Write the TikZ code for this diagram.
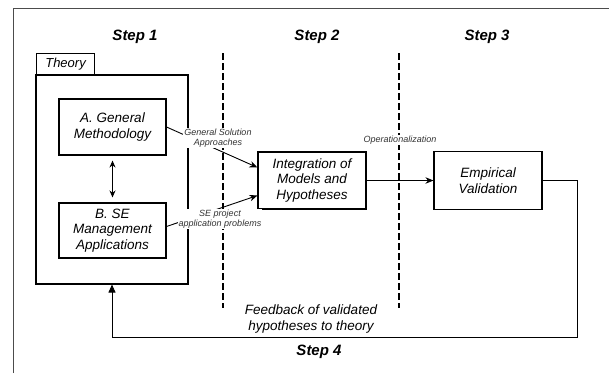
\documentclass[tikz,border=0pt]{standalone}
\usepackage{fontspec}
\setmainfont{Liberation Sans}
\usetikzlibrary{arrows.meta,calc}
\begin{document}
\begin{tikzpicture}[x=1pt,y=-1pt,
  box/.style={draw, line width=1.1pt, minimum width=107pt, minimum height=56pt, inner sep=0pt, align=center,
    font=\fontsize{13.5}{15.7}\selectfont\itshape},
  frame/.style={draw, line width=1.1pt, inner sep=0pt},
  steplabel/.style={font=\fontsize{15}{18}\selectfont\bfseries\itshape},
  small/.style={fill=white, inner sep=1pt, align=center, text=black!80, font=\fontsize{9}{10}\selectfont\itshape},
  conn/.style={line width=0.9pt, -{Stealth[length=8pt,width=6.5pt]}},
  divider/.style={line width=2pt, dash pattern=on 6.5pt off 3.5pt}]
\useasboundingbox (0,0) rectangle (609,373);

% outer frame
\draw[line width=1.2pt, black!70] (13.5,373) -- (13.5,8.5) -- (609,8.5);

% step labels
\node[steplabel] (step1) at (135,37) {Step 1};
\node[steplabel] (step2) at (317,37) {Step 2};
\node[steplabel] (step3) at (487,37) {Step 3};
\node[steplabel] (step4) at (319,352) {Step 4};

% dividers
\coordinate (d1top) at (223,53);
\coordinate (d1bot) at (223,308);
\coordinate (d2top) at (399,53);
\coordinate (d2bot) at (399,308);
\draw[divider] (d1top) -- (d1bot);
\draw[divider] (d2top) -- (d2bot);

% theory frame
\node[frame, minimum width=152pt, minimum height=209pt] (theory) at (112,179.5) {};
\node[frame, minimum width=58pt, minimum height=21pt, anchor=south west,
  font=\fontsize{13}{15}\selectfont\itshape] (tab) at (36,75) {Theory};

% boxes
\node[box, minimum height=56pt] (A) at (112.5,127) {A. General\\Methodology};
\node[box, minimum height=55pt] (B) at (112.5,230.5) {B. SE\\Management\\Applications};
\node[box, minimum width=108pt, minimum height=57pt] (integ) at (312,180.5) {Integration of\\Models and\\Hypotheses};
\node[box, minimum width=108pt, minimum height=58pt] (emp) at (488,180.5) {Empirical\\Validation};

% connectors
\draw[line width=0.9pt, {Stealth[length=7pt,width=6pt]}-{Stealth[length=7pt,width=6pt]}]
  ([yshift=-5pt]A.south) -- ([yshift=5pt]B.north);
\draw[conn] (A.east) -- ([yshift=13pt]integ.west);
\draw[conn] ([yshift=4pt]B.east) -- ([yshift=-15pt]integ.west);
\draw[conn] (integ.east) -- (emp.west);
\coordinate (fbcorner) at (577,337);
\draw[line width=0.9pt, -{Triangle[length=8pt,width=7pt]}] (emp.east) -| (fbcorner) -| (theory.south);

% connector labels
\node[small] (gsa) at (218,138) {General Solution\\Approaches};
\node[small] (sep) at (220,219) {SE project\\application problems};
\node[small] (oplabel) at (400,140) {Operationalization};
\node[align=center, font=\fontsize{13.5}{16}\selectfont\itshape] (fblabel) at (311,319)
  {Feedback of validated\\hypotheses to theory};
\end{tikzpicture}
\end{document}
